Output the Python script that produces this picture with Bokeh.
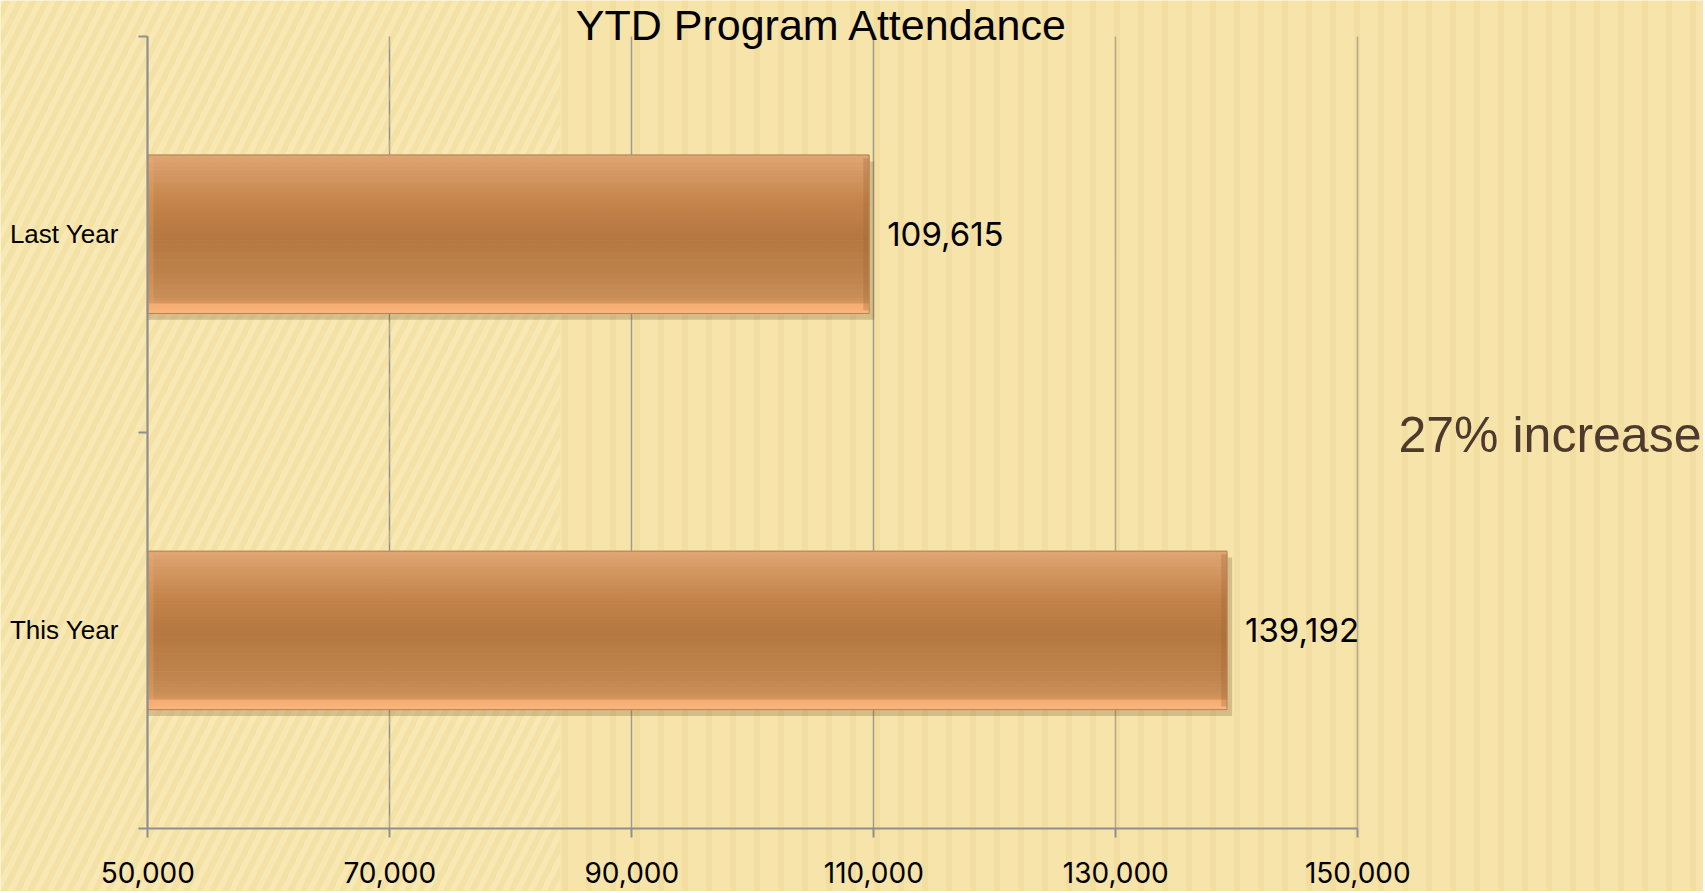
import numpy as np
from bokeh.plotting import figure
from bokeh.models import (Range1d, FixedTicker, NumeralTickFormatter, Label,
                          LabelSet, ColumnDataSource, BoxAnnotation)
from bokeh.core.properties import value
from bokeh.embed import file_html
from bokeh.resources import INLINE

# ---- data -------------------------------------------------------------
categories = ["Last Year", "This Year"]
attendance = [109615, 139192]
x_ticks = [50000, 70000, 90000, 110000, 130000, 150000]
x_start = 50000
x_end = 150000
title_text = "YTD Program Attendance"
note_text = "27% increase"

# ---- layout (pixels) ------------------------------------------------------
W, H = 1703, 891
PL, PR, PT, PB = 147.3, 1357.3, 35.7, 828.0   # plot area edges

n = len(categories)
ypos = [n - i - 0.5 for i in range(n)]          # category centres (top first)
bounds = [float(i) for i in range(n + 1)]        # category boundaries
value_labels = [f"{v:,}" for v in attendance]

ux = (x_end - x_start) / (PR - PL)
uy = n / (PB - PT)
xr = Range1d(x_start - PL * ux, x_end + (W - PR) * ux)
yr = Range1d(0 - (H - PB) * uy, n + PT * uy)

BG = "#f8e8b3"
GRID = "#8f8f8f"
BAR_H = 0.4

p = figure(width=W, height=H, output_backend="svg", toolbar_location=None,
           title=None, x_range=xr, y_range=yr,
           min_border=0, min_border_left=0, min_border_right=0,
           min_border_top=0, min_border_bottom=0,
           background_fill_color=BG, border_fill_color=BG,
           outline_line_color=None)

# soft stripes of the backdrop
p.add_layout(BoxAnnotation(left=0, right=560, left_units="screen", right_units="screen",
                           fill_color=None, line_color=None, level="underlay",
                           hatch_pattern="/", hatch_color="#ecd38c", hatch_alpha=0.32,
                           hatch_scale=26, hatch_weight=6))
p.add_layout(BoxAnnotation(left=560, right=W, left_units="screen", right_units="screen",
                           fill_color="#ecd38c", fill_alpha=0.18, line_color=None,
                           level="underlay",
                           hatch_pattern="|", hatch_color="#e6cc82", hatch_alpha=0.26,
                           hatch_scale=24, hatch_weight=6))

# ---- bars: shadow, gradient bands, bevel ---------------------------------
p.hbar(y=[y - 0.016 for y in ypos], left=x_start,
       right=[v + 420 for v in attendance], height=BAR_H,
       fill_color="#6b4a22", fill_alpha=0.25, line_color=None)

stops_pos = [0.0, 0.06, 0.30, 0.52, 0.75, 0.90, 0.935, 0.95, 1.0]
stops_col = [(0xdf, 0xa7, 0x76), (0xda, 0x9f, 0x6c), (0xc4, 0x84, 0x4a),
             (0xb5, 0x78, 0x41), (0xbe, 0x82, 0x4b), (0xc9, 0x8f, 0x58),
             (0xd8, 0x96, 0x60), (0xf6, 0xae, 0x74), (0xf8, 0xb5, 0x7c)]
k = 50
band_y, band_r, band_c = [], [], []
for j in range(k):
    t = (j + 0.5) / k
    rgb = [int(round(np.interp(t, stops_pos, [c[m] for c in stops_col]))) for m in range(3)]
    col = "#%02x%02x%02x" % tuple(rgb)
    for yp, v in zip(ypos, attendance):
        band_y.append(yp + BAR_H / 2 - t * BAR_H)
        band_r.append(v)
        band_c.append(col)
bands = ColumnDataSource(dict(y=band_y, right=band_r, color=band_c))
p.hbar(y="y", left=x_start, right="right", height=BAR_H / k * 1.15,
       fill_color="color", line_color="color", line_width=0.5, source=bands)

# bevel edges and outline
p.hbar(y=ypos, left=[v - 480 for v in attendance], right=attendance,
       height=BAR_H * 0.96, fill_color="#9c6232", fill_alpha=0.28, line_color=None)
p.hbar(y=ypos, left=x_start, right=x_start + 480,
       height=BAR_H * 0.96, fill_color="#f0b07a", fill_alpha=0.25, line_color=None)
p.hbar(y=ypos, left=x_start, right=attendance, height=BAR_H,
       fill_color=None, line_color="#b8844f", line_width=1)

# ---- value labels ----------------------------------------------------------
lab_src = ColumnDataSource(dict(x=attendance, y=ypos, text=value_labels))
p.add_layout(LabelSet(x="x", y="y", text="text", source=lab_src, x_offset=18,
                      text_baseline="middle", text_align="left",
                      text_font=value("Inter"), text_font_size=value("33px"),
                      text_color=value("#000000")))

# ---- axes & grid -----------------------------------------------------------
xa = p.xaxis[0]
xa.ticker = FixedTicker(ticks=x_ticks)
xa.formatter = NumeralTickFormatter(format="0,0")
xa.fixed_location = 0
xa.bounds = (x_start, x_end)
xa.axis_line_color = GRID
xa.axis_line_width = 2
xa.major_tick_line_color = GRID
xa.major_tick_line_width = 2
xa.major_tick_out = 9
xa.major_tick_in = 0
xa.minor_tick_line_color = None
xa.major_label_text_font = "Inter"
xa.major_label_text_font_size = "28px"
xa.major_label_text_color = "#000000"
xa.major_label_standoff = 24

ya = p.yaxis[0]
ya.ticker = FixedTicker(ticks=ypos, minor_ticks=bounds)
ya.major_label_overrides = {y: c for y, c in zip(ypos, categories)}
ya.fixed_location = x_start
ya.bounds = (0, n)
ya.axis_line_color = GRID
ya.axis_line_width = 2
ya.major_tick_line_color = None
ya.major_tick_out = 9
ya.major_tick_in = 0
ya.minor_tick_line_color = GRID
ya.minor_tick_line_width = 2
ya.minor_tick_out = 9
ya.minor_tick_in = 0
ya.major_label_text_font = "Liberation Sans"
ya.major_label_text_font_size = "26px"
ya.major_label_text_color = "#000000"
ya.major_label_standoff = 20

p.xgrid.grid_line_color = GRID
p.xgrid.grid_line_width = 1.5
p.xgrid.bounds = (x_start, x_end)
p.xgrid.cross_bounds = (0, n)
p.ygrid.visible = False

# ---- title & note --------------------------------------------------------------
p.add_layout(Label(x=821.5, y=H - 40.0 + 16, x_units="screen", y_units="screen",
                   text=title_text, text_align="center",
                   text_baseline="alphabetic", text_font="Liberation Sans",
                   text_font_size="43px", text_color="#000000"))
p.add_layout(Label(x=1398, y=H - 451.7 + 17.5, x_units="screen", y_units="screen",
                   text=note_text, text_align="left",
                   text_baseline="alphabetic", text_font="Liberation Sans",
                   text_font_size="50px", text_color="#4e3a2d"))

open("out.html", "w").write(file_html(p, INLINE))
